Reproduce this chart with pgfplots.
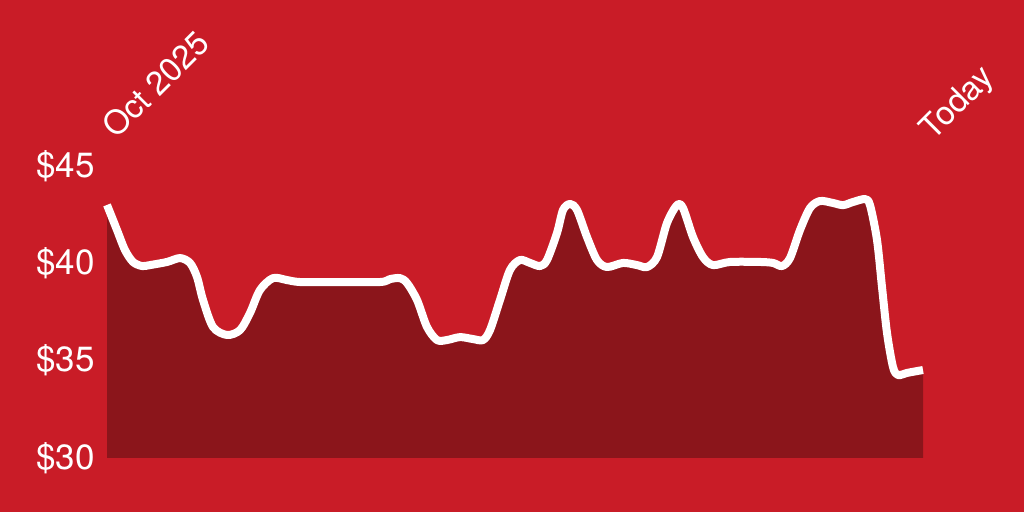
\documentclass[border=0pt]{standalone}
\usepackage{fontspec}
\setmainfont{TeX Gyre Heros}
\usepackage{pgfplots}
\usepackage{pgfplotstable}
\pgfplotsset{compat=1.18}
\definecolor{bgred}{RGB}{201,28,39}
\definecolor{fillred}{RGB}{139,21,27}
\pgfplotstableread{
x y
107 43.00
117 41.71
125 40.68
133 40.07
142 39.86
150 39.91
167 40.07
180 40.27
190 40.02
197 39.30
203 38.12
213 36.73
227 36.32
240 36.57
250 37.45
260 38.63
273 39.24
287 39.14
300 39.04
333 39.04
380 39.04
390 39.19
400 39.24
407 38.99
417 38.12
427 36.73
437 36.06
447 36.06
460 36.21
473 36.11
483 36.06
490 36.57
500 38.12
510 39.66
520 40.17
530 40.02
540 39.86
547 40.17
557 41.56
563 42.74
570 43.05
577 42.74
587 41.35
597 40.17
607 39.81
623 40.02
637 39.91
647 39.81
657 40.32
667 42.07
677 42.99
683 42.84
693 41.35
703 40.32
713 39.91
730 40.07
760 40.07
773 40.02
782 39.86
790 40.27
800 41.71
810 42.84
820 43.20
833 43.10
843 42.99
853 43.15
865 43.30
870 42.99
877 41.20
882 38.78
887 36.42
893 34.67
898 34.26
907 34.37
923 34.52
}\pricedata
\begin{document}
\begin{tikzpicture}
\useasboundingbox (0,0) rectangle (1024bp,512bp);
\fill[bgred] (0,0) rectangle (1024bp,512bp);
\begin{axis}[
  at={(107bp,54bp)}, anchor=south west,
  scale only axis, width=816bp, height=292bp,
  xmin=107, xmax=923, ymin=30, ymax=45,
  clip=false,
  axis line style={draw=none},
  tick style={draw=none},
  xtick=\empty,
  ytick={30,35,40,45},
  yticklabels={\$30,\$35,\$40,\$45},
  yticklabel style={anchor=east, xshift=-9bp, text=white, font=\fontsize{35bp}{40bp}\selectfont},
]
\addplot[fill=fillred, draw=none, smooth, tension=0.5] table {\pricedata} \closedcycle;
\addplot[white, line width=8bp, smooth, tension=0.5, line join=round] table {\pricedata};
\node[rotate=45, anchor=base west, text=white, font=\fontsize{33bp}{38bp}\selectfont, xshift=10bp] at (axis cs:107,45.85) {Oct 2025};
\node[rotate=45, anchor=base west, text=white, font=\fontsize{33bp}{38bp}\selectfont, xshift=11bp] at (axis cs:923,45.75) {Today};
\end{axis}
\end{tikzpicture}
\end{document}
